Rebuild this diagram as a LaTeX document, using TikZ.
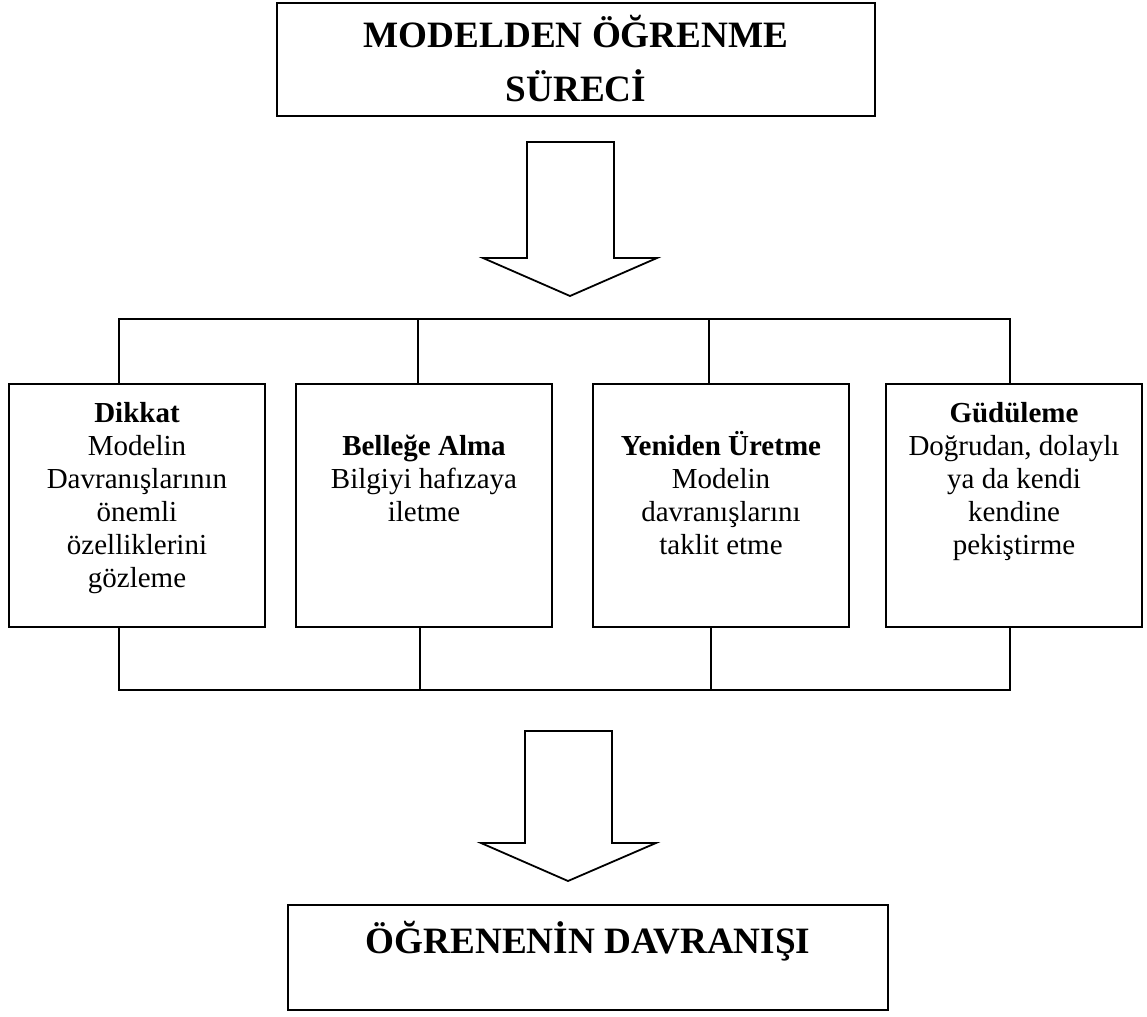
\documentclass[tikz,border=0pt]{standalone}
\usepackage{fontspec}
\setmainfont{Liberation Serif}
\begin{document}
\begin{tikzpicture}[x=0.5pt,y=-0.5pt,
  frame/.style={draw, line width=0.9pt, inner sep=0pt, outer sep=0pt},
  wire/.style={draw, line width=0.9pt},
  stagebox/.style={frame, minimum width=128pt, minimum height=121.5pt, anchor=north west},
  stagetext/.style={inner sep=0pt, anchor=north, align=center, font=\fontsize{14.5}{16.5}\selectfont},
  titletext/.style={inner sep=0pt, anchor=north, align=center, font=\fontsize{18.6}{27}\selectfont\bfseries}]
\useasboundingbox (0,0) rectangle (1147,1017);

% title box
\node[frame, minimum width=299pt, minimum height=56.5pt, anchor=north west] (top) at (277,3) {};
\node[titletext] (toptxt) at ([yshift=-4pt]top.north)
  {\rule{0pt}{18pt}MODELDEN ÖĞRENME\\SÜRECİ};

% first block arrow
\draw[frame] (527,142) -- (614,142) -- (614,258) -- (657,258) -- (570,296)
  -- (483,258) -- (527,258) -- cycle;

% the four stages
\node[stagebox] (b1) at (9,384) {};
\node[stagebox] (b2) at (296,384) {};
\node[stagebox] (b3) at (593,384) {};
\node[stagebox] (b4) at (886,384) {};

\node[stagetext] (t1) at ([yshift=-5pt]b1.north)
  {\rule{0pt}{14pt}\textbf{Dikkat}\\Modelin\\Davranışlarının\\önemli\\özelliklerini\\gözleme};
\node[stagetext] (t2) at ([yshift=-21.5pt]b2.north)
  {\rule{0pt}{14pt}\textbf{Belleğe Alma}\\Bilgiyi hafızaya\\iletme};
\node[stagetext] (t3) at ([yshift=-21.5pt]b3.north)
  {\rule{0pt}{14pt}\textbf{Yeniden Üretme}\\Modelin\\davranışlarını\\taklit etme};
\node[stagetext] (t4) at ([yshift=-5pt]b4.north)
  {\rule{0pt}{14pt}\textbf{Güdüleme}\\Doğrudan, dolaylı\\ya da kendi\\kendine\\pekiştirme};

% upper bus
\coordinate (u1) at (119,319);
\coordinate (u2) at (418,319);
\coordinate (u3) at (709,319);
\coordinate (u4) at (1010,319);
\draw[wire] (u1 |- b1.north) -- (u1) -- (u4) -- (u4 |- b4.north);
\draw[wire] (u2) -- (u2 |- b2.north);
\draw[wire] (u3) -- (u3 |- b3.north);

% lower bus
\coordinate (d1) at (119,690);
\coordinate (d2) at (420,690);
\coordinate (d3) at (711,690);
\coordinate (d4) at (1010,690);
\draw[wire] (d1 |- b1.south) -- (d1) -- (d4) -- (d4 |- b4.south);
\draw[wire] (d2) -- (d2 |- b2.south);
\draw[wire] (d3) -- (d3 |- b3.south);

% second block arrow
\draw[frame] (525,731) -- (612,731) -- (612,843) -- (656,843) -- (568,881)
  -- (481,843) -- (525,843) -- cycle;

% result box
\node[frame, minimum width=300pt, minimum height=52.5pt, anchor=north west] (bot) at (288,905) {};
\node[titletext] (bottxt) at ([yshift=-6pt]bot.north)
  {\rule{0pt}{18pt}ÖĞRENENİN DAVRANIŞI};
\end{tikzpicture}
\end{document}
